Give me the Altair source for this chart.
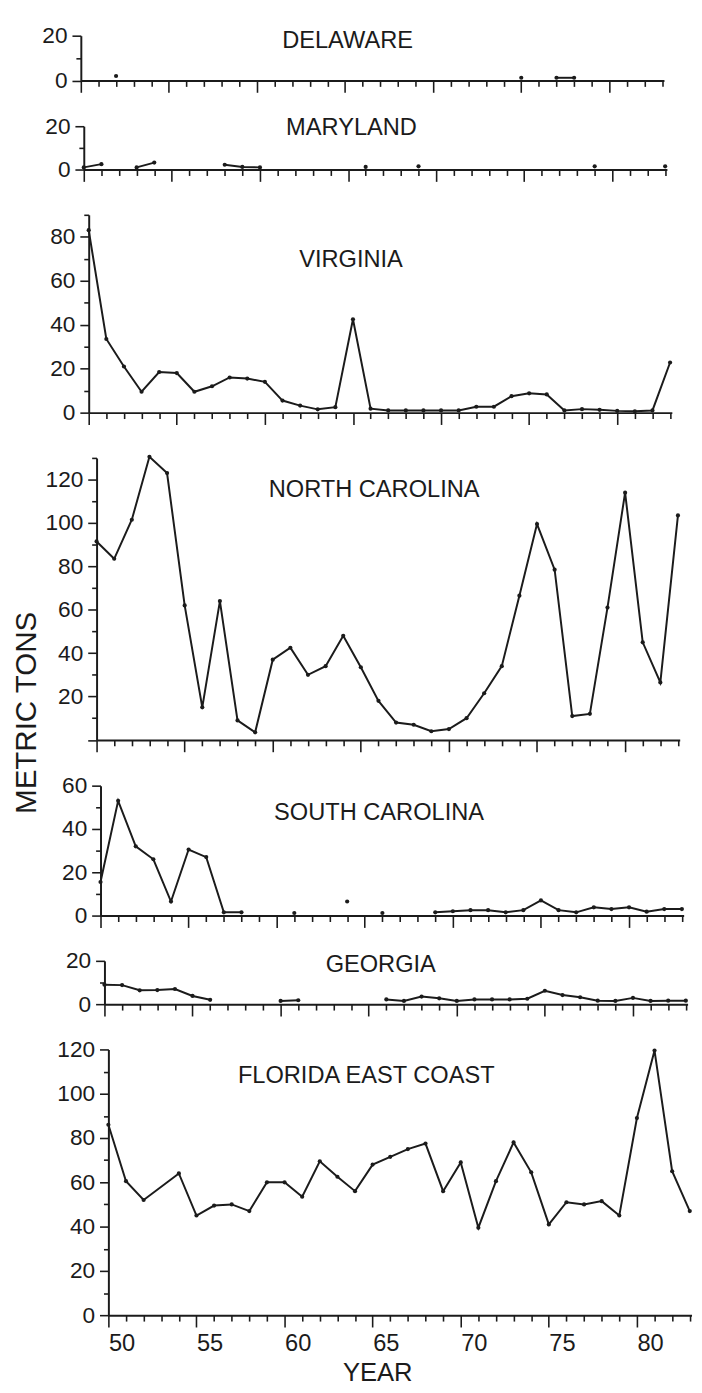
import altair as alt
import pandas as pd

# ---------------- data (metric tons by year) ----------------
YEARS = list(range(1950, 1984))
N = None

PANEL_NAMES = ["DELAWARE", "MARYLAND", "VIRGINIA", "NORTH CAROLINA",
               "SOUTH CAROLINA", "GEORGIA", "FLORIDA EAST COAST"]

DELAWARE = [N, N, 2.0, N, N, N, N, N, N, N,
            N, N, N, N, N, N, N, N, N, N,
            N, N, N, N, N, 1.2, N, 1.2, 1.2, N,
            N, N, N, N]
MARYLAND = [1.0, 2.5, N, 1.0, 3.2, N, N, N, 2.2, 1.2,
            1.0, N, N, N, N, N, 1.2, N, N, 1.5,
            N, N, N, N, N, N, N, N, N, 1.5,
            N, N, N, 1.5]
VIRGINIA = [83, 33.5, 21, 9.5, 18.5, 18, 9.5, 12, 16, 15.5,
            14, 5.5, 3.2, 1.5, 2.5, 42.5, 1.8, 1, 1, 1,
            1, 1, 2.7, 2.7, 7.5, 8.8, 8.3, 1, 1.6, 1.3,
            0.8, 0.6, 1, 22.8]
NORTH_CAROLINA = [91.5, 83.5, 101.5, 130.5, 123, 62, 15, 64, 9, 3.5,
                  37, 42.5, 30, 34, 48, 33.5, 18, 8, 7, 4,
                  5, 10, 21.5, 34, 66.5, 99.5, 78.5, 11, 12, 61,
                  114, 45, 26.5, 103.5]
SOUTH_CAROLINA = [15.5, 53, 32, 26, 6.5, 30.5, 27, 1.5, 1.5, N,
                  N, 1.2, N, N, 6.5, N, 1.2, N, N, 1.5,
                  2, 2.5, 2.5, 1.5, 2.5, 7, 2.5, 1.5, 3.8, 3,
                  3.8, 1.8, 3, 3]
GEORGIA = [9, 8.8, 6.4, 6.5, 7, 3.8, 2, N, N, N,
           1.5, 1.8, N, N, N, N, 2.2, 1.5, 3.5, 2.7,
           1.5, 2.2, 2.2, 2.2, 2.5, 6.2, 4.2, 3.2, 1.6, 1.5,
           2.9, 1.5, 1.6, 1.6]
FLORIDA = [86, 60.5, 52, N, 64, 45, 49.5, 50, 47, 60,
           60, 53.5, 69.5, 62.5, 56, 68, 71.5, 75, 77.5, 56,
           69, 39.5, 60.5, 78, 64.5, 41, 51, 50, 51.5, 45,
           89, 119.5, 65, 47]

SERIES = [DELAWARE, MARYLAND, VIRGINIA, NORTH_CAROLINA,
          SOUTH_CAROLINA, GEORGIA, FLORIDA]
Y_MAX = [20, 20, 90, 130, 60, 20, 120]
BRIDGE_GAPS = [False, False, False, False, False, False, True]
Y_TITLE = ["METRIC TONS"]
X_TITLE = ["YEAR"]

# ---------------- styling / layout ----------------
INK = "#1b1b1b"
FONT = "Liberation Sans"
PX_PER_YEAR = 17.9
X_DOMAIN = [1950, 1983.1]
SPAN = (X_DOMAIN[1] - X_DOMAIN[0]) * PX_PER_YEAR
VIEW_W = 621

HEIGHTS = [45.5, 44, 201, 286.5, 132, 44, 270]
SHIFTS = [0, 3, 8, 16, 20, 24, 28]
TITLE_POS = [(271, 5.5), (275, 1.7), (274.5, 46), (298, 33),
             (303, 27.5), (304.7, 4.2), (290, 27.5)]


def build(values, bridge):
    rows, seg, prev = [], 0, False
    for yr, v in zip(YEARS, values):
        if v is None:
            if not bridge and prev:
                seg += 1
            prev = False if not bridge else prev
            continue
        rows.append({"year": yr, "value": v, "seg": seg})
        prev = True
    return pd.DataFrame(rows)


def make_panel(i):
    name = PANEL_NAMES[i]
    ymax = Y_MAX[i]
    h = HEIGHTS[i]
    s = SHIFTS[i]
    df = build(SERIES[i], BRIDGE_GAPS[i])
    last = i == len(PANEL_NAMES) - 1
    hide_zero = name == "NORTH CAROLINA"

    xkw = dict(values=YEARS, tickCount=100, title=None, grid=False,
               tickSize={"condition": {"test": "datum.value % 5 === 0", "value": 12}, "value": 6})
    if last:
        xkw.update(labels=True, format="d",
                   labelExpr="datum.value % 5 === 0 && datum.value <= 1980 ? substring(datum.label, 2) : ''",
                   labelAlign="left", labelFlush=False, labelOverlap=False,
                   labelFontSize=24, labelPadding=5)
    else:
        xkw.update(labels=False)
    xscale = alt.Scale(domain=X_DOMAIN, range=[s, s + SPAN], nice=False, zero=False)

    lab_test = "datum.value % 20 === 0" + (" && datum.value > 0" if hide_zero else "")
    yaxis = alt.Axis(values=list(range(0, ymax + 1, 10)), tickCount=100, format="d",
                     title=None, grid=False, offset=-s,
                     labelExpr=f"{lab_test} ? datum.label : ''",
                     tickSize={"condition": {"test": "datum.value % 20 === 0", "value": 9}, "value": 5},
                     labelPadding=5, labelOverlap=False)
    yscale = alt.Scale(domain=[0, ymax], nice=False, zero=True)

    base = alt.Chart(df)
    line = base.mark_line(color=INK, strokeWidth=2).encode(
        x=alt.X("year:Q", scale=xscale, axis=alt.Axis(**xkw)),
        y=alt.Y("value:Q", scale=yscale, axis=yaxis),
        detail="seg:N",
    )
    pts = base.mark_circle(color=INK, size=18, opacity=1).encode(
        x=alt.X("year:Q", scale=xscale),
        y=alt.Y("value:Q", scale=yscale),
    )
    tx, ty = TITLE_POS[i]
    title = alt.Chart(pd.DataFrame({"t": [name]})).mark_text(
        font=FONT, fontSize=24, color=INK, align="center", baseline="middle"
    ).encode(x=alt.value(tx), y=alt.value(ty), text="t:N")

    layers = [line, pts, title]
    if i == 0:
        # white anchor (outside the visible area) fixing the top-left overhang
        anchor = alt.Chart(pd.DataFrame({"a": [0]})).mark_rule(color="white", strokeWidth=1).encode(
            x=alt.value(-73), y=alt.value(-40), y2=alt.value(-39))
        layers.append(anchor)
    if name == "NORTH CAROLINA":
        yt = alt.Chart(pd.DataFrame({"t": Y_TITLE})).mark_text(
            font=FONT, fontSize=30, color=INK, angle=270, align="center", baseline="middle"
        ).encode(x=alt.value(-55), y=alt.value(259), text="t:N")
        layers.append(yt)
    if last:
        xt = alt.Chart(pd.DataFrame({"t": X_TITLE})).mark_text(
            font=FONT, fontSize=26, color=INK, align="center", baseline="middle"
        ).encode(x=alt.value(301.7), y=alt.value(329), text="t:N")
        layers.append(xt)

    return alt.layer(*layers).properties(width=VIEW_W, height=h)


panels = [make_panel(i) for i in range(len(PANEL_NAMES))]

chart = alt.vconcat(*panels, spacing=46, bounds="flush").properties(
    padding={"left": 0, "top": -24, "right": 0, "bottom": 0}
).configure_view(stroke=None).configure_axis(
    domainColor=INK, domainWidth=2, tickColor=INK, tickWidth=1.6,
    labelFont=FONT, labelFontSize=23, labelColor=INK, grid=False
)

chart.save("out.html", embed_options={"renderer": "svg", "actions": False})
